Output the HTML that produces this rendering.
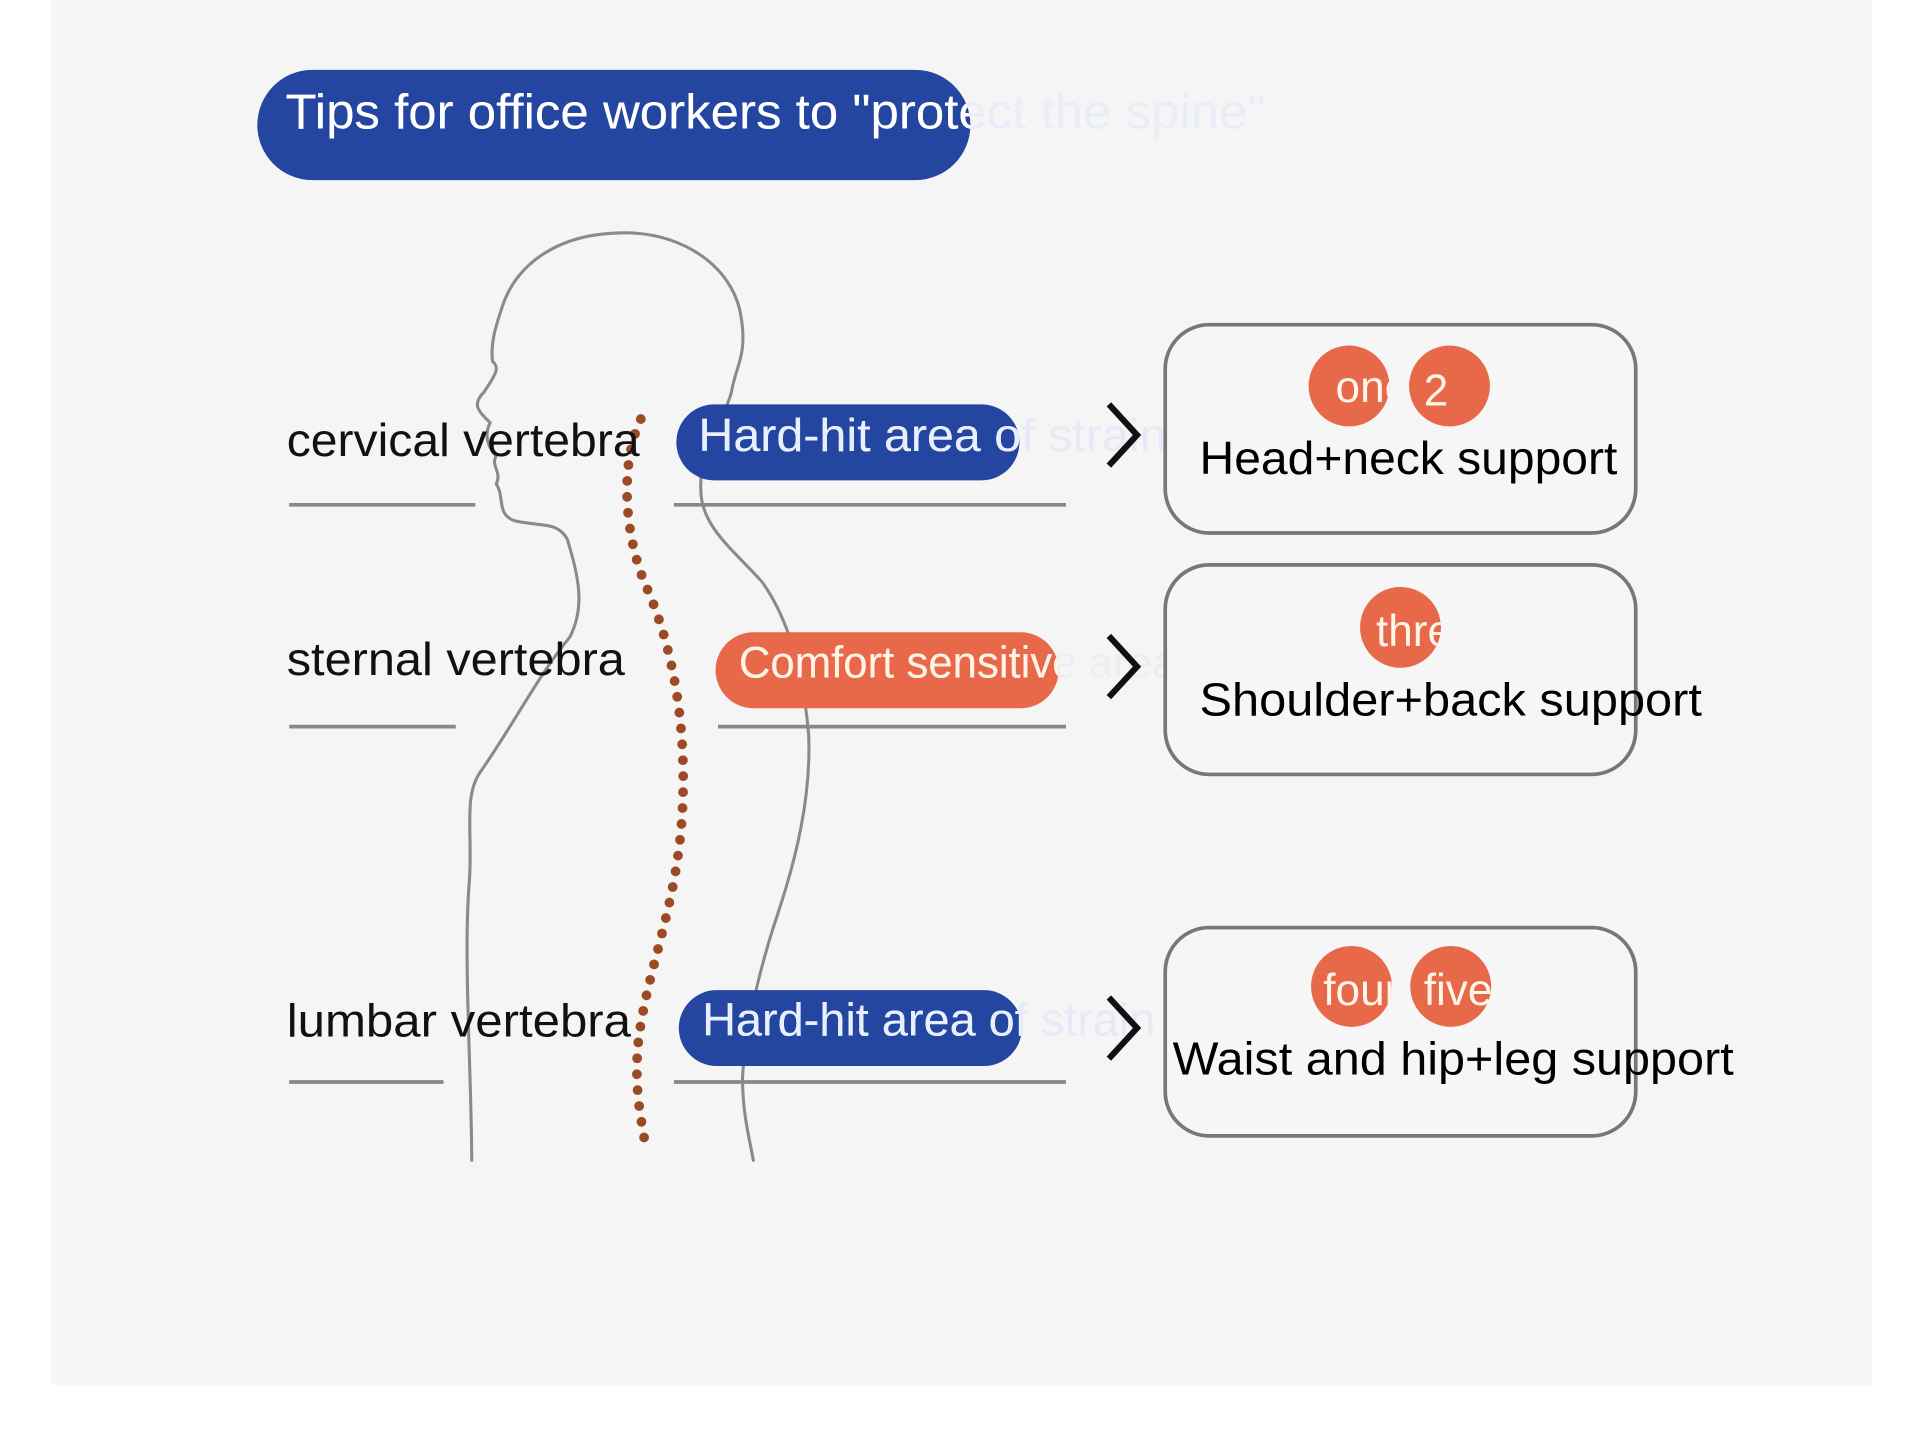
<!DOCTYPE html>
<html><head><meta charset="utf-8"><style>
html,body{margin:0;padding:0;background:#fff;}
svg{display:block;}
text{font-family:"Liberation Sans",sans-serif;}
</style></head><body>
<svg width="1920" height="1441" viewBox="0 0 1567 1176" preserveAspectRatio="none" xmlns="http://www.w3.org/2000/svg">
<defs>
<clipPath id="c0"><rect x="210" y="57" width="582" height="90" rx="45"/></clipPath>
<clipPath id="c1"><rect x="552" y="330" width="280" height="62" rx="31"/></clipPath>
<clipPath id="c2"><rect x="584" y="516" width="280" height="62" rx="31"/></clipPath>
<clipPath id="c3"><rect x="554" y="808" width="280" height="62" rx="31"/></clipPath>
<clipPath id="k1"><circle cx="1101" cy="315" r="33"/></clipPath>
<clipPath id="k3"><circle cx="1143" cy="512" r="33"/></clipPath>
<clipPath id="k4"><circle cx="1103" cy="805" r="33"/></clipPath>
<clipPath id="k5"><circle cx="1184" cy="805" r="33"/></clipPath>
</defs>
<rect x="0" y="0" width="1567" height="1176" fill="#fff"/>
<rect x="42" y="0" width="1486" height="1130" fill="#f5f5f5"/>

<rect x="210" y="57" width="582" height="90" rx="45" fill="#2446a0"/>
<text x="233" y="105" font-size="40" fill="#e9edf7" textLength="800" lengthAdjust="spacingAndGlyphs">Tips for office workers to "protect the spine"</text>
<text x="233" y="105" font-size="40" fill="#fff" clip-path="url(#c0)" textLength="800" lengthAdjust="spacingAndGlyphs">Tips for office workers to "protect the spine"</text>

<g fill="none" stroke="#8a8a8a" stroke-width="2.5">
<path d="M385,948 C385,880 378,780 383,720 C386,680 378,650 392,630 C420,590 440,550 465,520 C478,495 472,470 463,440 C455,425 440,430 420,425 C405,420 412,405 405,395 C410,385 400,380 405,372 C398,365 395,355 400,345 C390,335 385,330 395,320 C405,305 408,300 402,295 C400,280 405,265 410,250 C420,220 450,190 510,190 C560,190 600,220 605,260 C610,290 600,300 597,320 C590,345 570,370 572,400 C572,430 600,450 622,475 C640,500 655,540 660,600 C662,650 650,700 635,745 C620,790 608,840 606,880 C606,910 612,930 615,948"/>
</g>

<path d="M523,342 C505,380 510,440 528,480 C552,535 560,600 557,660 C553,740 528,790 521,850 C517,890 524,915 527,937" fill="none" stroke="#9a4a25" stroke-width="8" stroke-linecap="round" stroke-dasharray="0 13"/>

<g font-size="38" fill="#111">
<text x="234" y="372" textLength="288" lengthAdjust="spacingAndGlyphs">cervical vertebra</text>
<text x="234" y="551" textLength="276" lengthAdjust="spacingAndGlyphs">sternal vertebra</text>
<text x="234" y="846" textLength="281" lengthAdjust="spacingAndGlyphs">lumbar vertebra</text>
</g>
<g stroke="#888" stroke-width="3">
<line x1="236" y1="412" x2="388" y2="412"/>
<line x1="236" y1="593" x2="372" y2="593"/>
<line x1="236" y1="883" x2="362" y2="883"/>
<line x1="550" y1="412" x2="870" y2="412"/>
<line x1="586" y1="593" x2="870" y2="593"/>
<line x1="550" y1="883" x2="870" y2="883"/>
</g>

<rect x="552" y="330" width="280" height="62" rx="31" fill="#2446a0"/>
<text x="570" y="368" font-size="38" fill="#e6eaf6" textLength="382" lengthAdjust="spacingAndGlyphs">Hard-hit area of strain</text>
<text x="570" y="368" font-size="38" fill="#e8f0ff" clip-path="url(#c1)" textLength="382" lengthAdjust="spacingAndGlyphs">Hard-hit area of strain</text>

<rect x="584" y="516" width="280" height="62" rx="31" fill="#e8684a"/>
<text x="603" y="553" font-size="36" fill="#eeeeee" textLength="357" lengthAdjust="spacingAndGlyphs">Comfort sensitive area</text>
<text x="603" y="553" font-size="36" fill="#fff3e6" clip-path="url(#c2)" textLength="357" lengthAdjust="spacingAndGlyphs">Comfort sensitive area</text>

<rect x="554" y="808" width="280" height="62" rx="31" fill="#2446a0"/>
<text x="573" y="845" font-size="38" fill="#e6eaf6" textLength="370" lengthAdjust="spacingAndGlyphs">Hard-hit area of strain</text>
<text x="573" y="845" font-size="38" fill="#e8f0ff" clip-path="url(#c3)" textLength="370" lengthAdjust="spacingAndGlyphs">Hard-hit area of strain</text>

<g fill="none" stroke="#111" stroke-width="5">
<polyline points="905,330 928,355 905,380"/>
<polyline points="905,519 928,544 905,569"/>
<polyline points="905,814 928,839 905,864"/>
</g>

<g fill="#f6f6f6" stroke="#777" stroke-width="3">
<rect x="951" y="265" width="384" height="170" rx="36"/>
<rect x="951" y="461" width="384" height="171" rx="36"/>
<rect x="951" y="757" width="384" height="170" rx="36"/>
</g>

<g fill="#e8684a">
<circle cx="1101" cy="315" r="33"/><circle cx="1183" cy="315" r="33"/>
<circle cx="1143" cy="512" r="33"/>
<circle cx="1103" cy="805" r="33"/><circle cx="1184" cy="805" r="33"/>
</g>
<g font-size="36" fill="#fff6ea">
<text x="1090" y="328" clip-path="url(#k1)">one</text>
<text x="1162" y="331">2</text>
<text x="1123" y="527" clip-path="url(#k3)">three</text>
<text x="1080" y="820" clip-path="url(#k4)">four</text>
<text x="1162" y="820" clip-path="url(#k5)">five</text>
</g>

<g font-size="38" fill="#000">
<text x="979" y="387" textLength="341" lengthAdjust="spacingAndGlyphs">Head+neck support</text>
<text x="979" y="584" textLength="410" lengthAdjust="spacingAndGlyphs">Shoulder+back support</text>
<text x="957" y="877" textLength="458" lengthAdjust="spacingAndGlyphs">Waist and hip+leg support</text>
</g>
</svg>
</body></html>
